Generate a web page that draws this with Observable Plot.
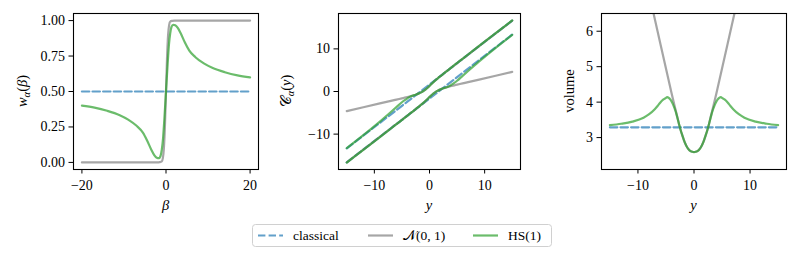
<!DOCTYPE html>
<html><head><meta charset="utf-8">
<script src="https://cdn.jsdelivr.net/npm/d3@7"></script>
<script src="https://cdn.jsdelivr.net/npm/@observablehq/plot@0.6"></script>
<style>
html,body{margin:0;padding:0;background:#fff;}
#fig{position:relative;width:798px;height:260px;font-family:'Liberation Serif',serif;}
#fig > svg{position:absolute;top:0;overflow:visible;}
</style></head><body><div id="fig"></div>
<script>
// ---------- Panel 1: w_alpha(beta) ----------
const betaHS = [-20,-17,-14,-11,-9,-7,-5.5,-4.5,-3.5,-2.8,-2.2,-1.7,-1.3,-1,-0.7,-0.4,0,0.4,0.7,1,1.3,1.7,2.2,2.8,3.5,4.5,5.5,7,9,11,14,17,20];
const wHS = [0.40,0.386,0.364,0.333,0.302,0.258,0.21,0.155,0.09,0.052,0.033,0.03,0.045,0.09,0.17,0.30,0.50,0.70,0.83,0.91,0.955,0.97,0.967,0.948,0.91,0.845,0.79,0.742,0.698,0.667,0.636,0.614,0.60];
const betaN = [-20,-2,-1.5,-1,-0.75,-0.5,-0.25,0,0.25,0.5,0.75,1,1.5,2,20];
const wN = [0,0.0003,0.002,0.007,0.03,0.1,0.26,0.5,0.74,0.9,0.97,0.993,0.998,0.9997,1];
const betaClassical = [-20, 20];
const wClassical = [0.5, 0.5];

// ---------- Panel 2: C_alpha(y) ----------
const yC = [-15,-12,-9,-7,-6,-5,-4.5,-4,-3.5,-3,-2.5,-2,-1.5,-1,-0.5,0,0.5,1,1.5,2,2.5,3,3.5,4,4.5,5,6,7,9,12,15];
const upperN = [-4.6,-3.7,-2.8,-2.2,-1.9,-1.6,-1.45,-1.3,-1.15,-0.95,-0.75,-0.5,-0.2,0.2,0.7,1.3,1.95,2.55,3.1,3.62,4.13,4.64,5.14,5.64,6.14,6.64,7.64,8.64,10.64,13.64,16.64];
const lowerN = [-16.64,-13.64,-10.64,-8.64,-7.64,-6.64,-6.14,-5.64,-5.14,-4.64,-4.13,-3.62,-3.1,-2.55,-1.95,-1.3,-0.7,-0.2,0.2,0.5,0.75,0.95,1.15,1.3,1.45,1.6,1.9,2.2,2.8,3.7,4.6];
const upperHS = [-13.3,-10.25,-7.06,-4.82,-3.68,-2.52,-2.04,-1.6,-1.2,-0.95,-0.75,-0.5,-0.2,0.2,0.7,1.3,1.95,2.55,3.1,3.62,4.13,4.64,5.14,5.66,6.18,6.68,7.68,8.68,10.68,13.68,16.68];
const lowerHS = [-16.68,-13.68,-10.68,-8.68,-7.68,-6.68,-6.18,-5.66,-5.14,-4.64,-4.13,-3.62,-3.1,-2.55,-1.95,-1.3,-0.7,-0.2,0.2,0.5,0.75,0.95,1.2,1.6,2.04,2.52,3.68,4.82,7.06,10.25,13.3];
const yClassical = [-15, 15];
const upperClassical = [-13.36, 16.64];
const lowerClassical = [-16.64, 13.36];

// ---------- Panel 3: volume ----------
const yV = [-15,-13,-11,-9,-8,-7,-6.5,-6,-5.5,-5,-4.8,-4.5,-4.2,-3.9,-3.6,-3.3,-3,-2.7,-2.4,-2.1,-1.8,-1.5,-1.2,-0.9,-0.6,-0.3,0,0.3,0.6,0.9,1.2,1.5,1.8,2.1,2.4,2.7,3,3.3,3.6,3.9,4.2,4.5,4.8,5,5.5,6,6.5,7,8,9,11,13,15];
const volHS = [3.35,3.39,3.45,3.56,3.66,3.8,3.89,3.99,4.07,4.12,4.14,4.12,4.07,3.99,3.88,3.75,3.58,3.4,3.22,3.07,2.93,2.81,2.72,2.66,2.62,2.6,2.59,2.6,2.62,2.66,2.72,2.81,2.93,3.07,3.22,3.4,3.58,3.75,3.88,3.99,4.07,4.12,4.14,4.12,4.07,3.99,3.89,3.8,3.66,3.56,3.45,3.39,3.35];
const yVN = [-15,-12,-9,-7.5,-6,-5,-4,-3.5,-3,-2.7,-2.4,-2.1,-1.8,-1.5,-1.2,-0.9,-0.6,-0.3,0,0.3,0.6,0.9,1.2,1.5,1.8,2.1,2.4,2.7,3,3.5,4,5,6,7.5,9,12,15];
const volN = [11.9,9.8,7.7,6.7,5.65,4.95,4.25,3.92,3.6,3.4,3.22,3.07,2.93,2.81,2.72,2.66,2.62,2.6,2.59,2.6,2.62,2.66,2.72,2.81,2.93,3.07,3.22,3.4,3.6,3.92,4.25,4.95,5.65,6.7,7.7,9.8,11.9];
const yVClassical = [-15, 15];
const volClassical = [3.29, 3.29];

// tick labels
const ticks1x = [-20, 0, 20], ticks1y = [0, 0.25, 0.5, 0.75, 1];
const ticks2x = [-10, 0, 10], ticks2y = [-10, 0, 10];
const ticks3x = [-10, 0, 10], ticks3y = [3, 4, 5, 6];

const BLUE = "#1f77b4", GRAY = "#808080", GREEN = "#2ca02c";
const FONT = "'Liberation Serif', serif";
const FS = 14;

const sBlue = {stroke: BLUE, strokeOpacity: 0.7, strokeWidth: 2.2, strokeDasharray: "7.4,3.2", curve: "monotone-x"};
const sGray = {stroke: GRAY, strokeOpacity: 0.7, strokeWidth: 2.2, curve: "monotone-x"};
const sGreen = {stroke: GREEN, strokeOpacity: 0.7, strokeWidth: 2.2, curve: "monotone-x"};

function L(xs, ys, style) {
  return Plot.line(d3.zip(xs, ys), {x: d => d[0], y: d => d[1], clip: true, ...style});
}

const fig = document.getElementById("fig");

function panel(o) {
  const svg = Plot.plot({
    width: o.width, height: 215,
    marginLeft: o.ml, marginRight: o.mr, marginTop: 13, marginBottom: 46,
    style: {fontFamily: FONT, fontSize: FS + "px", background: "transparent", color: "#000", overflow: "visible"},
    x: {domain: o.xd, label: null},
    y: {domain: o.yd, label: null},
    marks: [
      ...o.marks,
      Plot.frame({stroke: "#000", strokeWidth: 1.1}),
      Plot.axisX({ticks: o.xt, tickSize: 4.5, tickPadding: 6, label: null, fontSize: FS, fontFamily: FONT, tickFormat: d3.format("d")}),
      Plot.axisY({ticks: o.yt, tickSize: 4.5, tickPadding: 4, label: null, fontSize: FS, fontFamily: FONT, tickFormat: o.yf})
    ]
  });
  svg.style.left = o.left + "px";
  fig.appendChild(svg);
  const s = d3.select(svg);
  const cx = (o.ml + (o.width - o.mr)) / 2;
  // x label
  s.append("text").attr("x", cx).attr("y", 210).attr("text-anchor", "middle")
    .attr("font-family", FONT).attr("font-size", 14.5).attr("font-style", "italic").text(o.xl);
  // y label
  const t = s.append("text").attr("transform", `translate(${o.ylx},91) rotate(-90)`)
    .attr("text-anchor", "middle").attr("dy", "0.35em").attr("font-family", FONT).attr("font-size", 14.5);
  o.yl(t);
  return svg;
}

panel({
  left: 0, width: 266, ml: 73, mr: 8, xd: [-22, 22], yd: [-0.05, 1.05],
  xt: ticks1x, yt: ticks1y, yf: d3.format(".2f"), xl: "β", ylx: 22,
  yl: t => {
    t.append("tspan").attr("font-style", "italic").text("w");
    t.append("tspan").attr("font-style", "italic").attr("font-size", 10.5).attr("dy", 3).text("α");
    t.append("tspan").attr("dy", -3).text("(");
    t.append("tspan").attr("font-style", "italic").text("β");
    t.append("tspan").text(")");
  },
  marks: [L(betaClassical, wClassical, sBlue), L(betaN, wN, sGray), L(betaHS, wHS, sGreen)]
});

panel({
  left: 266, width: 266, ml: 72, mr: 12, xd: [-16.5, 16.5], yd: [-18.3, 18.3],
  xt: ticks2x, yt: ticks2y, yf: d3.format("d"), xl: "y", ylx: 20,
  yl: t => {
    t.append("tspan").text("𝒞");
    t.append("tspan").attr("font-style", "italic").attr("font-size", 10.5).attr("dy", 3).text("α");
    t.append("tspan").attr("dy", -3).text("(");
    t.append("tspan").attr("font-style", "italic").text("y");
    t.append("tspan").text(")");
  },
  marks: [
    L(yClassical, upperClassical, sBlue), L(yClassical, lowerClassical, sBlue),
    L(yC, upperN, sGray), L(yC, lowerN, sGray),
    L(yC, upperHS, sGreen), L(yC, lowerHS, sGreen)
  ]
});

panel({
  left: 532, width: 266, ml: 69, mr: 12, xd: [-16.5, 16.5], yd: [2.1, 6.5],
  xt: ticks3x, yt: ticks3y, yf: d3.format("d"), xl: "y", ylx: 37,
  yl: t => { t.text("volume"); },
  marks: [L(yVClassical, volClassical, sBlue), L(yVN, volN, sGray), L(yV, volHS, sGreen)]
});

// ---------- legend ----------
const legendItems = [
  {label: "classical", color: BLUE, dash: "7.4,3.2", x: 8},
  {label: "𝒩(0, 1)", color: GRAY, dash: null, x: 118},
  {label: "HS(1)", color: GREEN, dash: null, x: 223}
];
const lg = d3.select(fig).append("svg").attr("width", 305).attr("height", 28)
  .style("left", "250px").style("top", "222px");
lg.append("rect").attr("x", 2.5).attr("y", 2.5).attr("width", 299).attr("height", 22).attr("rx", 3)
  .attr("fill", "#fff").attr("stroke", "#d0d0d0").attr("stroke-width", 1);
legendItems.forEach(it => {
  lg.append("line").attr("x1", it.x).attr("x2", it.x + 25).attr("y1", 13.5).attr("y2", 13.5)
    .attr("stroke", it.color).attr("stroke-opacity", 0.7).attr("stroke-width", 2.2)
    .attr("stroke-dasharray", it.dash);
  lg.append("text").attr("x", it.x + 35).attr("y", 13.5).attr("dy", "0.35em")
    .attr("font-family", FONT).attr("font-size", 13.5).text(it.label);
});
</script></body></html>
